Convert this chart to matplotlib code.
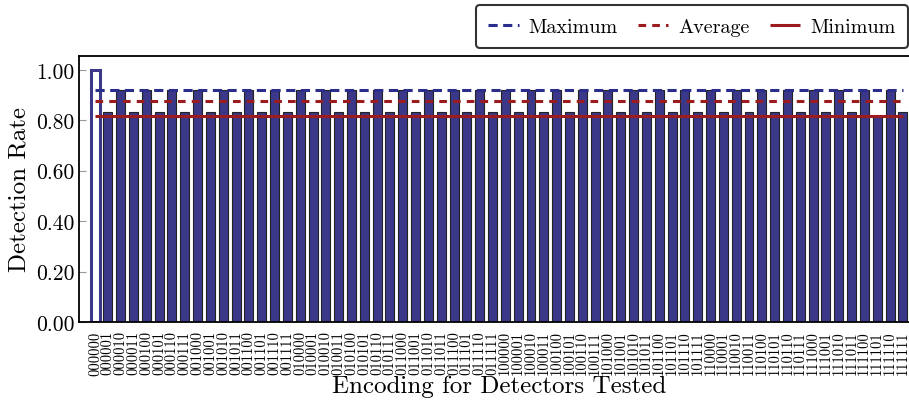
import numpy as np
import matplotlib
matplotlib.use('Agg')
import matplotlib.pyplot as plt

plt.rcParams['font.family'] = ['cmr10', 'DejaVu Serif']
plt.rcParams['mathtext.fontset'] = 'cm'
plt.rcParams['axes.unicode_minus'] = False

# encodings 000000 .. 111111
labels = [format(i, '06b') for i in range(64)]

# detection rate: baseline first, then alternating
high_val = 0.92
low_val = 0.833
rates = [1.00]
for i in range(1, 64):
    rates.append(low_val if i % 2 == 1 else high_val)
rates[61] = 0.815  # 111101 dips below the rest
rates = np.array(rates)

bar_color = '#3b3889'
navy = '#2a2d8c'
dark_red = '#9b1b1e'

fig = plt.figure(figsize=(9.09, 4.10), dpi=100)
ax = fig.add_axes([0.0869, 0.2122, 0.924, 0.649])

x = np.arange(len(labels))
ax.bar(x[1:], rates[1:], width=0.7, color=bar_color, edgecolor='#222222', linewidth=0.8)
ax.bar(x[0], rates[0], width=0.7, color='white', edgecolor=bar_color, linewidth=2.2)

tested = rates[1:]
ax.hlines(tested.max(), 0, 63, colors=navy, linestyles=(0, (3, 1.8)), linewidth=2.2, label='Maximum')
ax.hlines(tested.mean(), 0, 63, colors=dark_red, linestyles=(0, (2.5, 2)), linewidth=2.2, label='Average')
ax.hlines(tested.min(), 0, 63, colors=dark_red, linestyles='-', linewidth=2.2, label='Minimum')

ax.set_xlim(-1.25, 64.25)
ax.set_ylim(0, 1.055)
ax.set_xticks(x)
ax.set_xticklabels(labels, rotation=90, fontsize=10.5)
ax.tick_params(axis='x', length=0, pad=6)
ax.set_yticks([0, 0.2, 0.4, 0.6, 0.8, 1.0])
ax.set_yticklabels(['0.00', '0.20', '0.40', '0.60', '0.80', '1.00'], fontsize=15.5)
ax.tick_params(axis='y', direction='in', length=5, color='#999999', pad=3)
for s in ax.spines.values():
    s.set_linewidth(1.3)

ax.set_ylabel('Detection Rate', fontsize=18, labelpad=4)
ax.set_xlabel('Encoding for Detectors Tested', fontsize=18, labelpad=0)

leg = fig.legend(loc='upper right', bbox_to_anchor=(0.999, 0.985), bbox_transform=fig.transFigure,
                 ncol=3, fontsize=14.5, frameon=True, fancybox=True, handlelength=1.5,
                 columnspacing=1.0, handletextpad=0.5, borderpad=0.62, borderaxespad=0)
leg.get_frame().set_edgecolor('black')
leg.get_frame().set_linewidth(1.5)

plt.savefig('out.png', dpi=100)
